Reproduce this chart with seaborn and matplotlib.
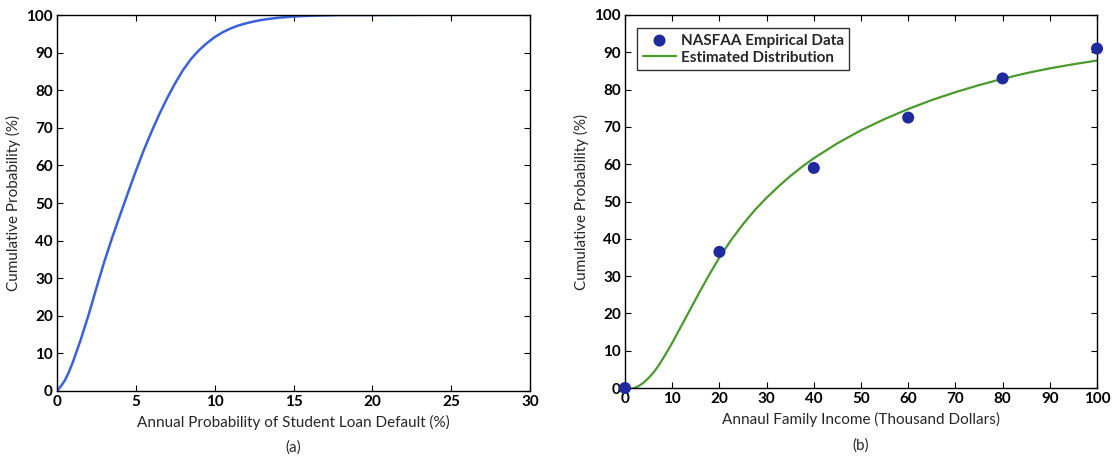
import matplotlib
matplotlib.use("Agg")
import matplotlib.pyplot as plt
import seaborn as sns
import pandas as pd

# Panel (a): CDF of annual probability of student loan default
default_x = [0, 0.25, 0.5, 0.75, 1, 1.5, 2, 2.5, 3, 3.5, 4, 4.5, 5, 5.5, 6, 6.5, 7, 7.5, 8, 8.5, 9,
             9.5, 10, 10.5, 11, 11.5, 12, 12.5, 13, 13.5, 14, 15, 16, 17, 18, 20, 25, 30]
default_cdf = [0, 1.3, 2.8, 5.0, 7.6, 13.6, 20.2, 27.4, 34.4, 40.8, 46.8, 52.7, 58.5, 64.0, 69.0,
               73.7, 78.0, 81.9, 85.4, 88.3, 90.6, 92.5, 94.1, 95.4, 96.4, 97.2, 97.8, 98.3, 98.7,
               99.0, 99.25, 99.6, 99.8, 99.9, 100.0, 100.0, 100.1, 100.2]

# Panel (b): NASFAA empirical data and estimated distribution
income_pts = [0, 20, 40, 60, 80, 100]
income_emp = [0, 36.5, 59, 72.5, 83, 91]
income_x = [0, 1, 2, 3, 4, 5, 6, 7, 8, 9, 10, 12, 14, 16, 18, 20, 22.5, 25, 27.5, 30, 32.5, 35,
            37.5, 40, 45, 50, 55, 60, 65, 70, 75, 80, 85, 90, 95, 100]
income_cdf = [-0.5, -0.4, 0, 0.6, 1.5, 2.7, 4.1, 5.8, 7.8, 9.9, 12.1, 16.8, 21.5, 26.2, 30.7, 35,
              39.7, 43.9, 47.7, 51.0, 54.0, 56.8, 59.3, 61.6, 65.6, 69.1, 72.1, 74.8, 77.2, 79.3,
              81.2, 82.9, 84.4, 85.7, 86.8, 87.8]

sns.set_theme(style="white")
plt.rcParams["font.family"] = ["Lato", "DejaVu Sans"]

fig = plt.figure(figsize=(11.12, 4.62), dpi=100)
ax1 = fig.add_axes([57/1112, 1 - 391/462, (530-57)/1112, (391-15)/462])
ax2 = fig.add_axes([625/1112, 1 - 388/462, (1097-625)/1112, (388-15)/462])

sns.lineplot(x=default_x, y=default_cdf, ax=ax1, color="#3a62db", linewidth=1.8)
ax1.set_xlim(0, 30)
ax1.set_ylim(0, 100)
ax1.set_xticks(range(0, 31, 5))
ax1.set_yticks(range(0, 101, 10))
ax1.set_xlabel("Annual Probability of Student Loan Default (%)", fontsize=11, labelpad=4)
ax1.set_ylabel("Cumulative Probability (%)", fontsize=11, labelpad=4)

sns.scatterplot(x=income_pts, y=income_emp, ax=ax2, color="#1f2a9e", s=75, edgecolor="none",
                label="NASFAA Empirical Data", zorder=3, clip_on=False)
sns.lineplot(x=income_x, y=income_cdf, ax=ax2, color="#4a9a2c", linewidth=1.6,
             label="Estimated Distribution")
ax2.set_xlim(0, 100)
ax2.set_ylim(0, 100)
ax2.set_xticks(range(0, 101, 10))
ax2.set_yticks(range(0, 101, 10))
ax2.set_xlabel("Annaul Family Income (Thousand Dollars)", fontsize=11, labelpad=4)
ax2.set_ylabel("Cumulative Probability (%)", fontsize=11, labelpad=4)
leg = ax2.legend(loc="upper left", fontsize=11, frameon=True, fancybox=False,
                 edgecolor="black", borderpad=0.35, handlelength=2.2, handletextpad=0.3,
                 labelspacing=0.2, bbox_to_anchor=(0.01, 0.985))
leg.get_frame().set_linewidth(1.0)
for t in leg.get_texts():
    t.set_fontweight("bold")

for ax in (ax1, ax2):
    for s in ax.spines.values():
        s.set_color("black")
        s.set_linewidth(1.0)
    ax.tick_params(direction="in", length=4, width=0.8, top=True, right=True,
                   bottom=True, left=True, labelsize=11, pad=3, colors="black")
    for lab in ax.get_xticklabels() + ax.get_yticklabels():
        lab.set_fontweight("bold")

fig.text((57+530)/2/1112, 1 - 448/462, "(a)", ha="center", va="center", fontsize=11)
fig.text((625+1097)/2/1112, 1 - 446/462, "(b)", ha="center", va="center", fontsize=11)

fig.savefig("out.png", dpi=100)
